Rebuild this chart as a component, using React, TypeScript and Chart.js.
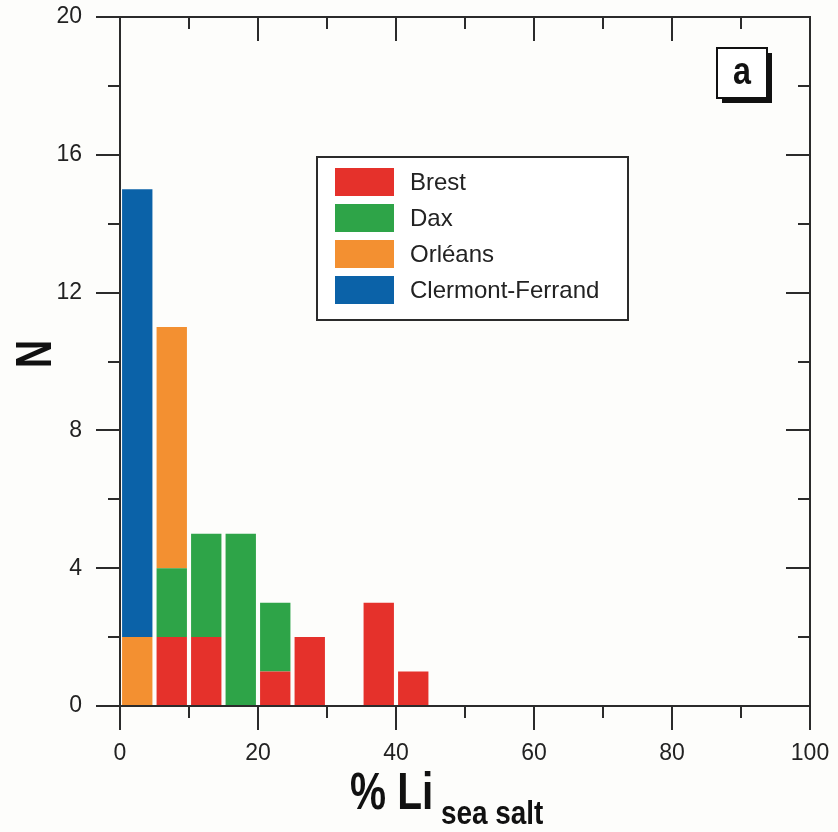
import React, { useEffect, useRef } from "react";
import { Chart, registerables } from "chart.js";

Chart.register(...registerables);

// ---- data ----
const binCenters = [2.5, 7.5, 12.5, 17.5, 22.5, 27.5, 32.5, 37.5, 42.5];
const brest = [0, 2, 2, 0, 1, 2, 0, 3, 1];
const dax = [0, 2, 3, 5, 2, 0, 0, 0, 0];
const orleans = [2, 7, 0, 0, 0, 0, 0, 0, 0];
const clermont = [13, 0, 0, 0, 0, 0, 0, 0, 0];
const seriesNames = ["Brest", "Dax", "Orléans", "Clermont-Ferrand"];
const seriesColors = ["#E5312B", "#2EA448", "#F39031", "#0B62A8"];
const xTickValues = [0, 20, 40, 60, 80, 100];
const yTickValues = [0, 4, 8, 12, 16, 20];
const xTitle = "% Li";
const xTitleSub = "sea salt";
const yTitle = "N";
const panelLabel = "a";

const FRAME = "#2b2b2b";

const decorPlugin = {
  id: "decor",
  beforeDraw(chart: any) {
    const ctx = chart.ctx;
    ctx.save();
    ctx.fillStyle = "#fdfdfb";
    ctx.fillRect(0, 0, chart.width, chart.height);
    ctx.restore();
  },
  afterDraw(chart: any) {
    const ctx = chart.ctx;
    const xs = chart.scales.x;
    const ys = chart.scales.y;
    const { left, right, top, bottom } = chart.chartArea;
    const MAJ = 24;
    const MIN = 12;
    ctx.save();
    ctx.strokeStyle = FRAME;
    ctx.lineWidth = 2;
    ctx.strokeRect(left, top, right - left, bottom - top);
    ctx.beginPath();
    // x ticks every 10, majors at 20
    for (let v = 0; v <= 100; v += 10) {
      const px = Math.round(xs.getPixelForValue(v));
      const len = v % 20 === 0 ? MAJ : MIN;
      ctx.moveTo(px, bottom);
      ctx.lineTo(px, bottom + len);
      ctx.moveTo(px, top);
      ctx.lineTo(px, top + len);
    }
    for (let v = 0; v <= 20; v += 2) {
      const py = Math.round(ys.getPixelForValue(v));
      const len = v % 4 === 0 ? MAJ : MIN;
      ctx.moveTo(left, py);
      ctx.lineTo(left - len, py);
      ctx.moveTo(right, py);
      ctx.lineTo(right - len, py);
    }
    ctx.stroke();

    // legend
    const lx = 317, ly = 157, lw = 311, lh = 163;
    ctx.fillStyle = "#ffffff";
    ctx.fillRect(lx, ly, lw, lh);
    ctx.strokeStyle = FRAME;
    ctx.lineWidth = 2;
    ctx.strokeRect(lx, ly, lw, lh);
    ctx.font = "24px 'Liberation Sans', Arial, sans-serif";
    ctx.textBaseline = "middle";
    ctx.textAlign = "left";
    chart.data.datasets.forEach((ds: any, i: number) => {
      const sy = 168 + i * 36;
      ctx.fillStyle = ds.backgroundColor;
      ctx.fillRect(335, sy, 59, 28);
      ctx.fillStyle = "#222";
      ctx.fillText(ds.label, 410, sy + 15);
    });

    // panel label box
    ctx.fillStyle = "#111";
    ctx.fillRect(722, 53, 50, 50);
    ctx.fillStyle = "#ffffff";
    ctx.fillRect(717, 48, 50, 50);
    ctx.strokeStyle = "#111";
    ctx.lineWidth = 2;
    ctx.strokeRect(717, 48, 50, 50);
    ctx.save();
    ctx.translate(742, 84);
    ctx.scale(0.85, 1);
    ctx.fillStyle = "#111";
    ctx.font = "bold 38px 'Liberation Sans', Arial, sans-serif";
    ctx.textAlign = "center";
    ctx.textBaseline = "alphabetic";
    ctx.fillText(panelLabel, 0, 0);
    ctx.restore();

    // x title
    ctx.fillStyle = "#111";
    ctx.textAlign = "left";
    ctx.textBaseline = "alphabetic";
    ctx.save();
    ctx.translate(350, 809);
    ctx.scale(0.78, 1);
    ctx.font = "bold 52px 'Liberation Sans', Arial, sans-serif";
    ctx.fillText(xTitle, 0, 0);
    ctx.restore();
    ctx.save();
    ctx.translate(441, 824);
    ctx.scale(0.82, 1);
    ctx.font = "bold 34px 'Liberation Sans', Arial, sans-serif";
    ctx.fillText(xTitleSub, 0, 0);
    ctx.restore();

    // y title
    ctx.save();
    ctx.translate(51, 354);
    ctx.rotate(-Math.PI / 2);
    ctx.scale(0.78, 1);
    ctx.font = "bold 50px 'Liberation Sans', Arial, sans-serif";
    ctx.textAlign = "center";
    ctx.fillText(yTitle, 0, 0);
    ctx.restore();

    ctx.restore();
  },
};

export default function App() {
  const ref = useRef<HTMLCanvasElement | null>(null);
  useEffect(() => {
    if (!ref.current) return;
    const series = [brest, dax, orleans, clermont];
    const chart = new Chart(ref.current, {
      type: "bar",
      data: {
        datasets: series.map((vals, i) => ({
          label: seriesNames[i],
          data: binCenters.map((c, j) => ({ x: c, y: vals[j] })),
          backgroundColor: seriesColors[i],
          borderWidth: 0,
          barPercentage: 0.88,
          categoryPercentage: 1,
        })),
      },
      options: {
        responsive: false,
        animation: false,
        devicePixelRatio: 1,
        layout: { padding: { top: 17, right: 28, left: 0, bottom: 0 } },
        plugins: { legend: { display: false }, tooltip: { enabled: false } },
        scales: {
          x: {
            type: "linear",
            stacked: true,
            offset: false,
            min: 0,
            max: 100,
            grid: { display: false, drawTicks: false, offset: false },
            border: { display: false },
            afterBuildTicks: (s: any) => {
              s.ticks = xTickValues.map((v) => ({ value: v }));
            },
            afterFit: (s: any) => {
              s.height = 126;
              s.paddingLeft = 0;
              s.paddingRight = 0;
            },
            ticks: {
              padding: 34,
              color: "#222",
              font: { family: "'Liberation Sans', Arial, sans-serif", size: 23 },
              maxRotation: 0,
            },
          },
          y: {
            type: "linear",
            stacked: true,
            min: 0,
            max: 20,
            grid: { display: false, drawTicks: false },
            border: { display: false },
            afterBuildTicks: (s: any) => {
              s.ticks = yTickValues.map((v) => ({ value: v }));
            },
            afterFit: (s: any) => {
              s.width = 120;
              s.paddingTop = 0;
              s.paddingBottom = 0;
            },
            ticks: {
              padding: 38,
              color: "#222",
              font: { family: "'Liberation Sans', Arial, sans-serif", size: 23 },
            },
          },
        },
      },
      plugins: [decorPlugin],
    } as any);
    return () => chart.destroy();
  }, []);
  return (
    <div style={{ position: "absolute", left: 0, top: 0, width: 838, height: 832, background: "#fdfdfb" }}>
      <canvas ref={ref} width={838} height={832} style={{ display: "block" }} />
    </div>
  );
}
